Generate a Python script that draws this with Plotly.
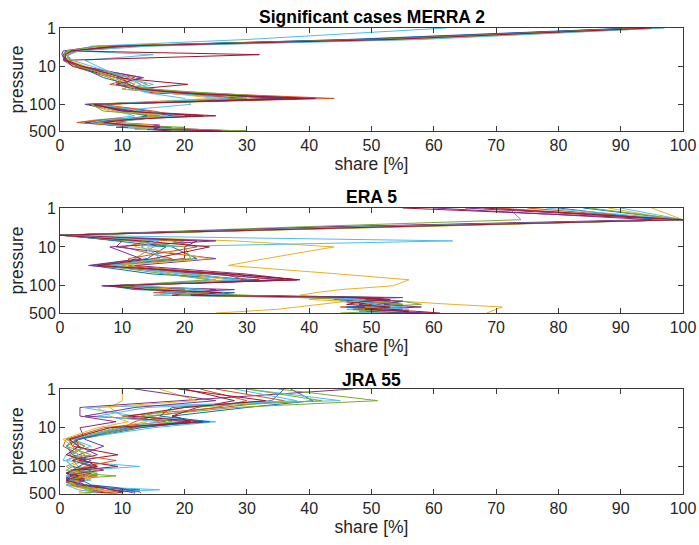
import plotly.graph_objects as go
import math

# ---------------- data ----------------
share_ticks = [0, 10, 20, 30, 40, 50, 60, 70, 80, 90, 100]
pressure_ticks = [1, 10, 100, 500]
pressure_tick_labels = ["1", "10", "100", "500"]

merra_levels = [1, 2, 3, 4, 5, 7, 10, 20, 30, 40, 50, 70, 100, 150, 200, 250, 300, 350, 400, 450, 500]
merra_series = [
    [95, 52, 8, 1.5, 0.5, 1, 3, 9, 12, 10, 18, 40, 5, 9, 20, 8, 5, 12, 15, 18, 25],
    [94, 50, 7, 1, 0.8, 0.5, 2, 8, 10, 14, 22, 44, 6, 12, 16, 10, 7, 14, 10, 20, 30],
    [97, 56, 10, 2, 1, 1.5, 4, 10, 13, 12, 20, 33, 4.5, 8, 22, 6, 3, 9, 18, 14, 22],
    [93, 48, 6, 0.5, 0.3, 0.8, 3.5, 13, 9, 15, 16, 30, 5.5, 14, 18, 12, 9, 16, 12, 22, 26],
    [96, 54, 12, 3, 1.5, 1, 2.5, 11, 14, 11, 24, 38, 7, 10, 15, 9, 6, 11, 20, 16, 30],
    [62, 30, 5, 3, 15, 4, 6, 10, 15, 12, 14, 20, 21, 9, 12, 7, 4, 10, 14, 12, 20],
    [94, 52, 8, 2, 32, 1, 2, 9, 20.5, 12, 15, 41, 5, 11, 25, 8, 5, 8, 16, 14, 18],
    [92, 46, 9, 1, 0.5, 0.8, 3, 7, 11, 13, 19, 36, 4, 10, 14, 11, 6, 13, 9, 17, 24],
    [95, 53, 11, 2.5, 1.2, 1.6, 2, 12, 8, 14, 21, 28, 6.5, 15, 19, 7, 2.7, 8, 13, 20, 28],
    [96, 55, 7, 1.5, 0.7, 1.2, 4, 8, 12, 10, 17, 25, 5, 9, 17, 10, 8, 15, 11, 16, 23],
    [93, 50, 10, 2, 1, 0.6, 3, 13.4, 9, 12, 20, 35, 4.3, 12, 21, 9, 4, 10, 17, 19, 27],
    [94, 51, 6, 1, 0.5, 1.3, 3, 9, 10, 15, 23, 30, 5, 7, 16, 13, 6, 12, 14, 21, 30],
    [97, 58, 14, 3, 1, 2, 5, 11, 13, 11, 18, 27, 6, 13, 20, 8, 5, 9, 12, 18, 21],
    [95, 53, 9, 1.8, 0.8, 1, 3.5, 10, 11, 13, 19, 39, 5.5, 10, 23, 11, 7, 11, 16, 15, 26],
]

era_levels = [1, 2, 3, 5, 7, 10, 20, 30, 50, 70, 100, 125, 150, 175, 200, 225, 250, 300, 350, 400, 450, 500]
era_series = [
    [84, 100, 55, 0, 12, 18, 22, 8, 20, 30, 10, 18, 22, 25, 45, 50, 55, 52, 48, 50, 55, 58],
    [75, 98, 50, 0, 15, 10, 18, 6, 25, 35, 9, 20, 15, 28, 50, 48, 52, 55, 45, 52, 50, 54],
    [95, 100, 58, 0.5, 28, 44, 33, 27, 45, 56, 53.5, 45, 41, 38.5, 45, 50, 55, 63, 71, 70, 69, 68.5],
    [65, 100, 50, 0, 10, 9, 25, 12, 30, 38, 7, 15, 25, 20, 55, 45, 50, 48, 52, 55, 50, 60],
    [72, 74, 40, 0, 20, 15, 12, 10, 22, 28, 12, 22, 18, 30, 42, 50, 55, 58, 50, 48, 52, 45],
    [90, 100, 52, 0, 63, 14, 16, 9, 18, 25, 11, 17, 20, 15, 40, 47, 52, 50, 55, 46, 50, 48],
    [55, 100, 48, 0, 22, 20, 20, 7, 28, 38, 9, 25, 22, 18, 48, 52, 45, 50, 47, 53, 56, 52],
    [80, 96, 53, 1, 9, 17, 14, 5, 15, 32, 8, 12, 28, 24, 50, 44, 48, 53, 46, 51, 49, 55],
    [70, 100, 47, 0, 18, 22, 11, 11, 26, 30, 10, 20, 16, 25, 46, 50, 53, 49, 52, 47, 55, 50],
    [88, 99, 55, 0, 14, 12, 24, 9, 20, 27, 13, 18, 24, 22, 44, 40, 46, 42, 38, 35, 30, 25],
    [60, 95, 45, 0, 25, 8, 13, 4.6, 24, 36, 6.7, 28, 18, 26, 52, 48, 55, 51, 58, 50, 53, 57],
    [85, 100, 56, 0, 11, 20, 21, 7, 17, 24, 9, 16, 23, 19, 38, 46, 50, 55, 49, 52, 48, 51],
    [78, 100, 50, 0, 16, 13, 17, 8, 21, 29, 12, 24, 17, 27, 43, 49, 47, 52, 50, 56, 54, 49],
    [68, 100, 54, 0, 13, 24, 15, 6, 27, 38.5, 8, 14, 26, 21, 47, 53, 49, 46, 53, 49, 57, 61],
]

jra_levels = [1, 2, 3, 5, 7, 10, 20, 30, 50, 70, 100, 125, 150, 175, 200, 225, 250, 300, 350, 400, 450, 500]
jra_series = [
    [37, 40.6, 30, 18, 22, 13, 3, 2, 4, 2, 6, 3, 1, 2, 3, 2, 1, 3, 6, 12.8, 10, 8],
    [22.5, 30, 25, 15, 12, 10, 2, 4, 1.5, 3, 5, 2, 4, 1, 2, 4, 2, 1, 4, 6, 9, 7],
    [10, 10, 8, 10, 14, 8, 1, 3, 2, 4, 1.5, 4, 2, 3, 1, 2, 3, 2, 5, 4, 3, 5],
    [47, 20, 3.2, 3.2, 9, 3.2, 4, 7, 3, 1, 2, 5, 3, 4, 2, 1, 3, 4, 8, 10, 12.8, 13],
    [35, 51, 28, 14, 20, 9, 2, 1, 5, 2, 3, 6, 3, 9, 4, 2, 1, 3, 5, 7, 6, 4],
    [30, 45, 3.7, 12, 25, 15, 2, 5, 1, 0.5, 12.8, 4, 2, 1, 3, 5, 2, 4, 8, 16, 9, 10],
    [20, 28, 22, 18, 21, 12, 1.5, 2, 9.3, 3, 9.3, 3, 1, 2, 4, 2, 1, 2, 3, 6, 5, 9],
    [36, 34, 18, 16, 24, 11, 3, 1, 2, 5, 3, 2, 5, 3, 1, 2, 4, 5, 9, 11, 12, 12],
    [25, 36, 26, 10, 17, 7, 1, 0.5, 3, 9, 4, 3, 2, 6, 2, 3, 1, 2, 4, 5, 7, 8],
    [16, 22, 6, 8, 11, 6, 0.5, 2, 4, 1, 2, 1, 4, 2, 5, 3, 2, 1, 3, 6, 8, 10],
    [12, 25, 12, 4, 21, 10, 2.5, 3, 6, 2, 5, 7, 3, 2, 1, 4, 2, 3, 6, 9, 11, 12],
    [30, 42, 20, 13, 18, 12, 1, 4, 2, 3, 1, 2, 6, 4, 3, 1, 2, 2, 5, 4, 6, 3],
    [28, 38, 14, 6, 16, 10, 2, 1, 3, 1, 2, 1, 2, 1, 2, 1, 3, 1, 2, 3, 5, 6],
    [19, 33, 20, 11, 23, 8, 1.5, 3, 1, 4, 6, 2, 1, 3, 2, 1, 2, 4, 7, 8, 10, 9],
]

panel_titles = ["Significant cases MERRA 2", "ERA 5", "JRA 55"]
x_label = "share [%]"
y_label = "pressure"

colors = ["#0072BD", "#D95319", "#EDB120", "#7E2F8E", "#77AC30", "#4DBEEE", "#A2142F"]

# ---------------- figure ----------------
W, H = 699, 545
FONT = "Liberation Sans, Arial, sans-serif"
TXT = "#262626"
LINE = "#3a3a3a"

x_left, x_right = 60, 683
panels_px = [(28, 131), (208, 313), (389, 493.5)]
title_centers = [17, 197, 380]

fig = go.Figure()
datasets = [(merra_levels, merra_series), (era_levels, era_series), (jra_levels, jra_series)]
for k, (levels, series) in enumerate(datasets):
    sfx = "" if k == 0 else str(k + 1)
    for i, vals in enumerate(series):
        fig.add_trace(go.Scatter(
            x=vals, y=levels, mode="lines",
            line=dict(color=colors[i % 7], width=1),
            xaxis="x" + sfx, yaxis="y" + sfx,
            showlegend=False, hoverinfo="skip",
        ))

layout = dict(
    width=W, height=H,
    margin=dict(l=0, r=0, t=0, b=0, autoexpand=False),
    paper_bgcolor="white", plot_bgcolor="white",
    font=dict(family=FONT, color=TXT, size=16),
    showlegend=False,
    annotations=[],
)
for k, (top, bot) in enumerate(panels_px):
    sfx = "" if k == 0 else str(k + 1)
    xd = [x_left / W, x_right / W]
    yd = [1 - bot / H, 1 - top / H]
    layout["xaxis" + sfx] = dict(
        domain=xd, range=[0, 100], anchor="y" + sfx, automargin=False,
        tickvals=share_ticks, ticks="inside", ticklen=5, tickcolor=LINE,
        showline=True, linecolor=LINE, linewidth=1, mirror="ticks",
        showgrid=False, zeroline=False,
        tickfont=dict(size=16, color=TXT, family=FONT),
        title=dict(text=x_label, font=dict(size=17.5, color=TXT, family=FONT), standoff=3),
    )
    layout["yaxis" + sfx] = dict(
        domain=yd, type="log", range=[math.log10(500), 0], anchor="x" + sfx, automargin=False,
        tickvals=pressure_ticks, ticktext=pressure_tick_labels,
        ticks="inside", ticklen=5, tickcolor=LINE,
        showline=True, linecolor=LINE, linewidth=1, mirror="ticks",
        showgrid=False, zeroline=False,
        tickfont=dict(size=16, color=TXT, family=FONT),
        title=dict(text=y_label, font=dict(size=17.5, color=TXT, family=FONT), standoff=0),
    )
    layout["annotations"].append(dict(
        text="<b>" + panel_titles[k] + "</b>", x=(x_left + x_right) / 2 / W,
        y=1 - title_centers[k] / H, xref="paper", yref="paper",
        xanchor="center", yanchor="middle", showarrow=False,
        font=dict(size=17.5, color="#000000", family=FONT),
    ))

fig.update_layout(**layout)
fig.write_html("out.html", config={"displayModeBar": False},
               post_script="document.body.style.margin='0px';")
